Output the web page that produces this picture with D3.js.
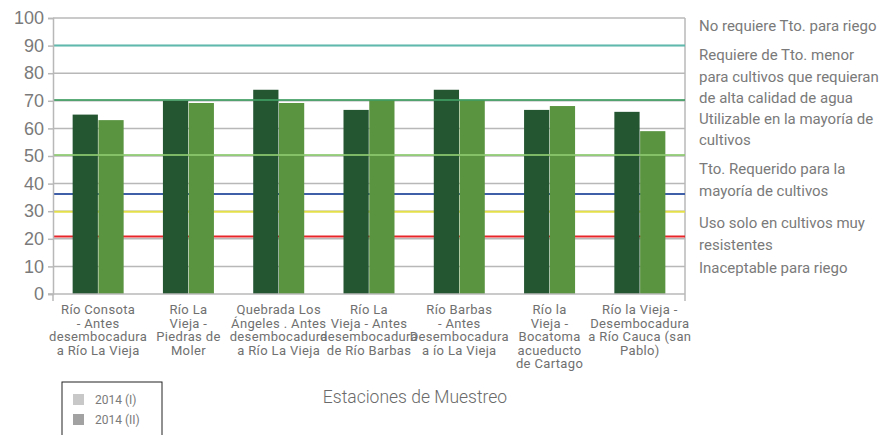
<!DOCTYPE html>
<html>
<head>
<meta charset="utf-8">
<script src="https://cdn.jsdelivr.net/npm/d3@7"></script>
<style>
  html, body { margin: 0; padding: 0; background: #fff; }
  svg { display: block; font-family: Roboto, "Noto Sans", sans-serif; }
</style>
</head>
<body>
<svg id="chart" width="888" height="435"></svg>
<script>
// Sampling stations (multi-line labels)
const categories = [
  ["Río Consota", "- Antes", "desembocadura", "a Río La Vieja"],
  ["Río La", "Vieja -", "Piedras de", "Moler"],
  ["Quebrada Los", "Ángeles . Antes", "desembocadura", "a Río La Vieja"],
  ["Río La", "Vieja - Antes", "desembocadura", "de Río Barbas"],
  ["Río Barbas", "- Antes", "Desembocadura", "a ío La Vieja"],
  ["Río la", "Vieja -", "Bocatoma", "acueducto", "de Cartago"],
  ["Río la Vieja -", "Desembocadura", "a Río Cauca (san", "Pablo)"]
];
const seriesNames = ["2014 (I)", "2014 (II)"];
const values2014I  = [65, 70, 74, 66.7, 74, 66.7, 66];
const values2014II = [63, 69.2, 69.2, 70.3, 70.3, 68.1, 59];
const yTicks = [0, 10, 20, 30, 40, 50, 60, 70, 80, 90, 100];

// Irrigation quality thresholds
const thresholdValues = [90, 70.3, 50.4, 36.2, 29.8, 20.8];
const thresholdColors = ["#4fb8aa", "#3f9d63", "#8cc96e", "#3f5fa8", "#e4e04a", "#e8262a"];
const thresholdOnTop  = [true, true, true, false, false, false];

// Right-hand class notes
const noteLines = [
  ["No requiere Tto. para riego", 26],
  ["Requiere de Tto. menor", 55],
  ["para cultivos que requieran", 77],
  ["de alta calidad de agua", 98],
  ["Utilizable en la mayoría de", 119],
  ["cultivos", 140],
  ["Tto. Requerido para la", 169],
  ["mayoría de cultivos", 191],
  ["Uso solo en cultivos muy", 223],
  ["resistentes", 245],
  ["Inaceptable para riego", 268]
];

const barColors = ["#245632", "#5a9441"];
const legendColors = ["#c8c8c8", "#a2a2a2"];
const axisTitle = "Estaciones de Muestreo";

const svg = d3.select("#chart");
const plotLeft = 53, plotRight = 685, plotTop = 18, plotBottom = 294;

const x = d3.scaleBand().domain(d3.range(categories.length)).range([plotLeft, plotRight]);
const xs = d3.scaleBand().domain(seriesNames).range([-25.5, 25.5]).paddingInner(0.02);
const y = d3.scaleLinear().domain([0, 100]).range([plotBottom, plotTop]);

// Gridlines
svg.append("g").selectAll("line").data(yTicks.filter(d => d > 0)).join("line")
  .attr("x1", plotLeft).attr("x2", plotRight)
  .attr("y1", d => y(d)).attr("y2", d => y(d))
  .attr("stroke", "#b8b8b8").attr("stroke-width", 1.5);

// Plot right border
svg.append("line").attr("x1", plotRight).attr("x2", plotRight).attr("y1", plotTop).attr("y2", plotBottom + 7)
  .attr("stroke", "#b8b8b8").attr("stroke-width", 1.5);

const drawThresholds = onTop => svg.append("g").selectAll("line")
  .data(thresholdValues.map((v, i) => ({ v, c: thresholdColors[i], t: thresholdOnTop[i] })).filter(d => d.t === onTop))
  .join("line")
  .attr("x1", plotLeft).attr("x2", plotRight)
  .attr("y1", d => y(d.v)).attr("y2", d => y(d.v))
  .attr("stroke", d => d.c).attr("stroke-width", 2)
  .attr("stroke-opacity", onTop ? 0.85 : 1);

drawThresholds(false);

// Bars
const series = [values2014I, values2014II];
const groups = svg.append("g").selectAll("g").data(categories.map((c, i) => i)).join("g")
  .attr("transform", i => `translate(${x(i) + x.bandwidth() / 2},0)`);
groups.selectAll("rect")
  .data(i => seriesNames.map((s, k) => ({ s, k, v: series[k][i] })))
  .join("rect")
  .attr("x", d => xs(d.s)).attr("width", xs.bandwidth())
  .attr("y", d => y(d.v)).attr("height", d => y(0) - y(d.v))
  .attr("fill", d => barColors[d.k]);

drawThresholds(true);

// Y axis
const yAxis = svg.append("g").attr("transform", `translate(${plotLeft},0)`)
  .call(d3.axisLeft(y).tickValues(yTicks).tickSize(5).tickPadding(4));
yAxis.select(".domain").attr("stroke", "#b8b8b8").attr("stroke-width", 1.5);
yAxis.selectAll(".tick line").attr("stroke", "#b8b8b8").attr("stroke-width", 1.5);
yAxis.selectAll(".tick text").attr("fill", "#7a7a7a").attr("font-size", 18).attr("font-weight", 300);

// X axis
svg.append("line").attr("x1", plotLeft - 5).attr("x2", plotRight).attr("y1", plotBottom).attr("y2", plotBottom)
  .attr("stroke", "#b8b8b8").attr("stroke-width", 1.5);
svg.append("line").attr("x1", plotLeft).attr("x2", plotLeft).attr("y1", plotBottom).attr("y2", plotBottom + 7)
  .attr("stroke", "#b8b8b8").attr("stroke-width", 1.5);

// Category labels
const catText = svg.append("g").selectAll("text").data(categories).join("text")
  .attr("x", (d, i) => x(i) + x.bandwidth() / 2)
  .attr("y", 314)
  .attr("text-anchor", "middle").attr("fill", "#707070")
  .attr("font-size", 13).attr("letter-spacing", 0.35);
catText.selectAll("tspan").data(d => d).join("tspan")
  .attr("x", function () { return d3.select(this.parentNode).attr("x"); })
  .attr("dy", (d, i) => i === 0 ? 0 : 13.5)
  .text(d => d);

// Axis title
svg.append("text").attr("x", 415).attr("y", 403).attr("text-anchor", "middle")
  .attr("fill", "#6a6a6a").attr("font-size", 17.5).attr("font-weight", 300).text(axisTitle);

// Threshold notes
svg.append("g").selectAll("text").data(noteLines).join("text")
  .attr("x", 699).attr("y", d => d[1]).attr("dy", "0.35em")
  .attr("fill", "#7a7a7a").attr("font-size", 15).text(d => d[0]);

// Legend
const lg = svg.append("g");
lg.append("rect").attr("x", 62).attr("y", 382).attr("width", 100).attr("height", 60)
  .attr("fill", "#fff").attr("stroke", "#222").attr("stroke-width", 1);
const items = lg.selectAll("g").data(seriesNames).join("g")
  .attr("transform", (d, i) => `translate(73,${394 + i * 20})`);
items.append("rect").attr("width", 11).attr("height", 11).attr("fill", (d, i) => legendColors[i]);
items.append("text").attr("x", 22).attr("y", 6).attr("dy", "0.35em")
  .attr("fill", "#7a7a7a").attr("font-size", 12).text(d => d);
</script>
</body>
</html>
